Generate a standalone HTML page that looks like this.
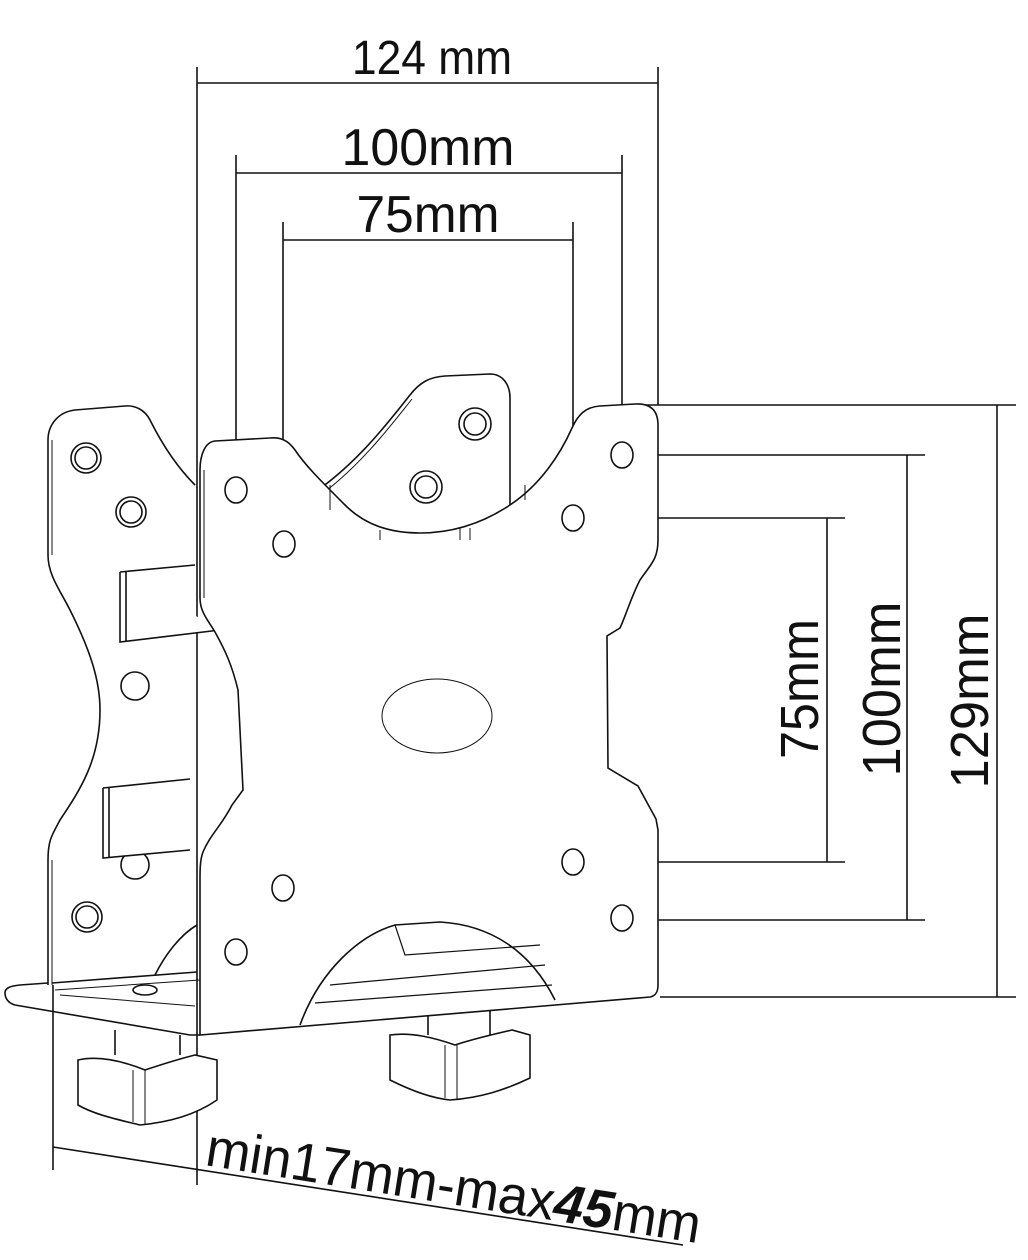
<!DOCTYPE html>
<html><head><meta charset="utf-8"><style>
html,body{margin:0;padding:0;background:#fff;}
svg{display:block;}
text{font-family:"Liberation Sans",sans-serif;fill:#111;}
</style></head><body>
<svg width="1028" height="1260" viewBox="0 0 1028 1260" xmlns="http://www.w3.org/2000/svg">
<g fill="none" stroke="#111" stroke-width="1.6">
<line x1="197" y1="67" x2="197" y2="1185"/>
<line x1="658" y1="67" x2="658" y2="405"/>
<line x1="197" y1="83" x2="658" y2="83"/>
<line x1="236" y1="155" x2="236" y2="476"/>
<line x1="622" y1="155" x2="622" y2="442"/>
<line x1="236" y1="173" x2="622" y2="173"/>
<line x1="283" y1="222" x2="283" y2="530"/>
<line x1="573" y1="222" x2="573" y2="505"/>
<line x1="283" y1="240" x2="573" y2="240"/>
<line x1="640" y1="405" x2="1016" y2="405"/>
<line x1="660" y1="997" x2="1016" y2="997"/>
<line x1="997" y1="405" x2="997" y2="997"/>
<line x1="634" y1="455" x2="925" y2="455"/>
<line x1="634" y1="920" x2="925" y2="920"/>
<line x1="907" y1="455" x2="907" y2="920"/>
<line x1="585" y1="518" x2="845" y2="518"/>
<line x1="585" y1="862" x2="845" y2="862"/>
<line x1="827" y1="518" x2="827" y2="862"/>
<line x1="53" y1="985" x2="53" y2="1170"/>
<line x1="53" y1="1147" x2="683" y2="1245"/>

<path d="M195,485 C175,465 160,440 150,420 C145,410 135,405 125,406 L75,410 C58,412 48,425 48,440 L48,555 C48,575 60,590 70,610 C90,650 100,680 100,710 C100,760 80,790 60,820 C52,835 48,840 48,860 L48,985"/>
<path d="M52,440 L52,555 M52,860 L52,985" stroke-width="1"/>
<circle cx="86" cy="458" r="15"/><circle cx="86" cy="458" r="11"/>
<circle cx="131" cy="512" r="15"/><circle cx="131" cy="512" r="11"/>
<circle cx="135" cy="686" r="14"/>
<circle cx="87" cy="917" r="15"/><circle cx="87" cy="917" r="11"/>
<circle cx="135" cy="865" r="14"/>
<path d="M120,572 L195,565 M120,572 L120,642 L220,630 M126,572 L126,642" fill="#fff"/>
<path d="M103,788 L103,858 L190,850 L190,779 Z" fill="#fff" stroke="none"/>
<path d="M103,788 L190,779 M103,788 L103,858 L190,850 M109,788 L109,858"/>
<path d="M318,490 C360,460 390,420 410,395 C420,382 430,377 445,376 L490,374 C503,374 510,385 510,398 L510,505"/>
<path d="M322,494 C362,464 392,424 412,399" stroke-width="1"/>
<circle cx="475" cy="424" r="16"/><circle cx="475" cy="424" r="11"/>
<circle cx="426" cy="487" r="16"/><circle cx="426" cy="487" r="11"/>
<path d="M200,470 L200,598 C200,612 208,620 215,632 C225,650 232,665 238,690 L243,790 L232,805 C222,825 210,835 203,852 C200,860 200,870 200,880 L200,1035 L650,997 C655,996 658,993 658,985 L658,830 L656,819 L638,786 L608,768 L607,636 L620,628 C626,615 632,595 640,580 C650,565 658,560 658,540 L658,425 C658,410 650,403 635,404 L600,406 C585,407 578,415 572,428 C560,455 540,485 510,505 C480,525 450,533 420,533 C390,533 365,525 345,505 C320,480 305,465 295,450 C288,440 280,437 270,438 L215,441 C205,442 200,455 200,470 Z" fill="#fff"/>
<path d="M204,470 L204,598" stroke-width="1"/>
<path d="M330,485 L330,510 M525,485 L525,500 M380,530 L380,540 M460,528 L460,540 M470,528 L470,540" stroke-width="1"/>
<ellipse cx="236" cy="490" rx="11" ry="13"/>
<ellipse cx="284" cy="544" rx="11" ry="13"/>
<ellipse cx="622" cy="455" rx="11" ry="13"/>
<ellipse cx="573" cy="518" rx="11" ry="13"/>
<ellipse cx="573" cy="862" rx="11" ry="13"/>
<ellipse cx="622" cy="918" rx="11" ry="13"/>
<ellipse cx="283" cy="888" rx="11" ry="13"/>
<ellipse cx="236" cy="952" rx="11" ry="13"/>
<ellipse cx="437" cy="716" rx="55" ry="37" stroke-width="1"/>
<path d="M300,1025 C320,970 360,935 395,925 L440,922 C490,925 530,950 555,1000"/>
<path d="M330,985 L545,965 M315,1003 L552,985 M395,925 L405,955 L540,945" stroke-width="1.2"/>
<path d="M155,975 C165,955 180,935 197,925" />
<path d="M200,1035 L190,1035 L15,1005 C8,1003 5,998 5,993 C5,988 10,986 20,985 L48,983 M52,983 L197,972"/>
<path d="M55,990 L200,980 M60,995 L195,1006" stroke-width="1"/>
<ellipse cx="145" cy="990" rx="12" ry="5"/>
<path d="M115,1030 L115,1055 M180,1035 L180,1055"/>
<path d="M78,1060 L78,1105 C95,1115 120,1120 140,1125 C170,1122 195,1115 217,1100 L217,1060 L195,1055 C175,1060 160,1065 145,1070 C125,1062 100,1055 78,1060 Z" fill="#fff"/>
<path d="M133,1070 L133,1122 M145,1070 L145,1124" stroke-width="1"/>
<path d="M428,1015 L428,1035 M490,1010 L490,1035"/>
<path d="M390,1035 L390,1080 C410,1090 430,1098 450,1100 C480,1098 505,1090 530,1078 L530,1035 L512,1030 C490,1035 470,1040 455,1045 C435,1038 412,1032 390,1035 Z" fill="#fff"/>
<path d="M445,1045 L445,1098 M457,1045 L457,1100" stroke-width="1"/>
</g>
<text x="432" y="74" font-size="48" text-anchor="middle" textLength="160" lengthAdjust="spacingAndGlyphs">124 mm</text>
<text x="428" y="165" font-size="52" text-anchor="middle" textLength="173" lengthAdjust="spacingAndGlyphs">100mm</text>
<text x="428" y="232" font-size="52" text-anchor="middle" textLength="143" lengthAdjust="spacingAndGlyphs">75mm</text>
<text transform="translate(818,689) rotate(-90)" font-size="54" text-anchor="middle" textLength="140" lengthAdjust="spacingAndGlyphs">75mm</text>
<text transform="translate(900,689) rotate(-90)" font-size="54" text-anchor="middle" textLength="175" lengthAdjust="spacingAndGlyphs">100mm</text>
<text transform="translate(988,701) rotate(-90)" font-size="54" text-anchor="middle" textLength="175" lengthAdjust="spacingAndGlyphs">129mm</text>
<text transform="translate(204,1165) rotate(9)" font-size="54" textLength="500" lengthAdjust="spacingAndGlyphs">min17mm-max<tspan font-weight="bold" font-style="italic">45</tspan>mm</text>
</svg>
</body></html>
